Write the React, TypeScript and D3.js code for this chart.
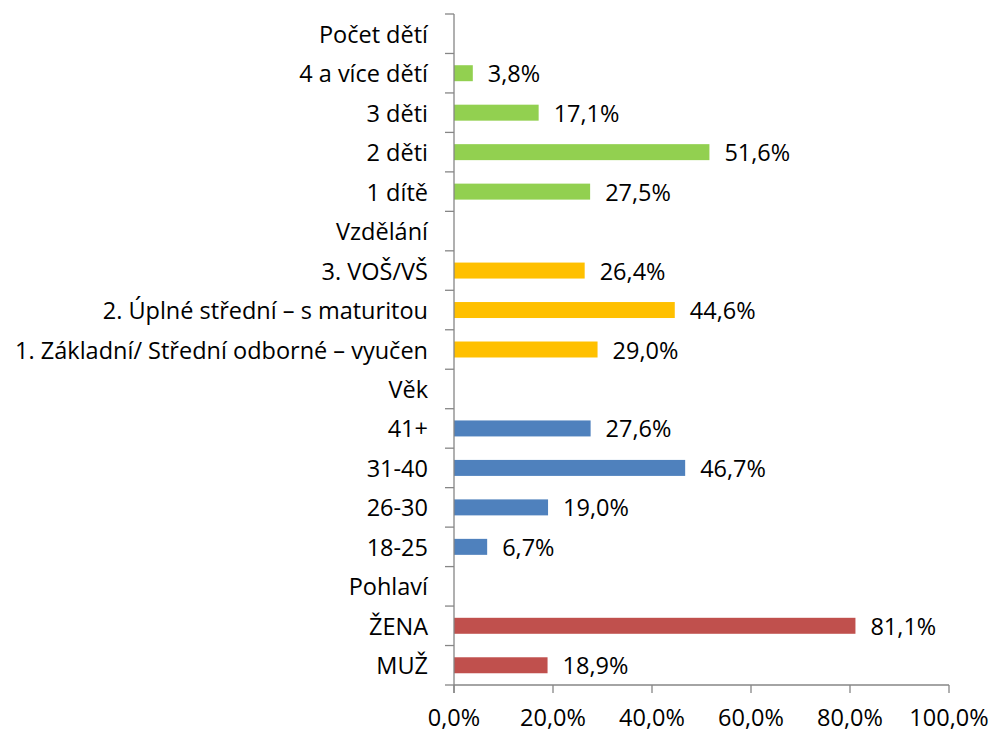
import React from "react";
import * as d3 from "d3";

const categories = [
  "Počet dětí",
  "4 a více dětí",
  "3 děti",
  "2 děti",
  "1 dítě",
  "Vzdělání",
  "3. VOŠ/VŠ",
  "2. Úplné střední – s maturitou",
  "1. Základní/ Střední odborné – vyučen",
  "Věk",
  "41+",
  "31-40",
  "26-30",
  "18-25",
  "Pohlaví",
  "ŽENA",
  "MUŽ",
];
const values: (number | null)[] = [
  null, 3.8, 17.1, 51.6, 27.5,
  null, 26.4, 44.6, 29.0,
  null, 27.6, 46.7, 19.0, 6.7,
  null, 81.1, 18.9,
];
const groups = [
  "kids", "kids", "kids", "kids", "kids",
  "edu", "edu", "edu", "edu",
  "age", "age", "age", "age", "age",
  "sex", "sex", "sex",
];
const groupColors: Record<string, string> = {
  kids: "#92D050",
  edu: "#FFC000",
  age: "#4F81BD",
  sex: "#C0504D",
};
const xTicks = [0, 20, 40, 60, 80, 100];

const W = 991;
const H = 729;
const left = 454;
const right = 949;
const top = 14;
const bottom = 685;
const FONT = "'Open Sans', 'Noto Sans', sans-serif";
const FS = 23.5;

const fmt = (v: number) => v.toFixed(1).replace(".", ",") + "%";

export default function App() {
  const x = d3.scaleLinear().domain([0, 100]).range([left, right]);
  const y = d3
    .scaleBand<string>()
    .domain(categories)
    .range([top, bottom])
    .paddingInner(0.595)
    .paddingOuter(0.2975);
  const step = y.step();
  const boundaries = d3.range(categories.length + 1).map((i) => top + i * step);
  const axisColor = "#868686";

  return (
    <svg
      width={W}
      height={H}
      style={{ position: "absolute", left: 0, top: 0, background: "#fff" }}
      fontFamily={FONT}
      fontSize={FS}
    >
      <rect x={0} y={0} width={W} height={H} fill="#fff" />
      {/* bars */}
      {categories.map((c, i) => {
        const v = values[i];
        if (v == null) return null;
        return (
          <rect
            key={"b" + c}
            x={x(0)}
            y={y(c)!}
            width={x(v) - x(0)}
            height={y.bandwidth()}
            fill={groupColors[groups[i]]}
          />
        );
      })}
      {/* y axis */}
      <line x1={left} x2={left} y1={top} y2={bottom + 8} stroke={axisColor} strokeWidth={1.3} />
      {boundaries.map((b, i) => (
        <line key={"yt" + i} x1={left - 9} x2={left} y1={b} y2={b} stroke={axisColor} strokeWidth={1.3} />
      ))}
      {/* x axis */}
      <line x1={left} x2={right} y1={bottom} y2={bottom} stroke={axisColor} strokeWidth={1.3} />
      {xTicks.map((t) => (
        <g key={"xt" + t}>
          <line x1={x(t)} x2={x(t)} y1={bottom} y2={bottom + 8} stroke={axisColor} strokeWidth={1.3} />
          <text x={x(t)} y={726} textAnchor="middle" fill="#000">
            {fmt(t)}
          </text>
        </g>
      ))}
      {/* category labels */}
      {categories.map((c) => (
        <text
          key={"l" + c}
          x={428}
          y={y(c)! + y.bandwidth() / 2}
          textAnchor="end"
          dominantBaseline="central"
          fill="#000"
        >
          {c}
        </text>
      ))}
      {/* data labels */}
      {categories.map((c, i) => {
        const v = values[i];
        if (v == null) return null;
        return (
          <text
            key={"d" + c}
            x={x(v) + 15}
            y={y(c)! + y.bandwidth() / 2}
            dominantBaseline="central"
            fill="#000"
          >
            {fmt(v)}
          </text>
        );
      })}
    </svg>
  );
}
